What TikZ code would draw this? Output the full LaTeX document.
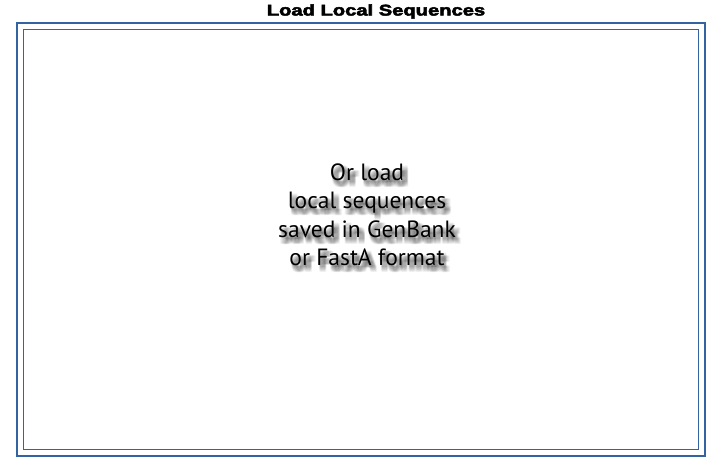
\documentclass[tikz,border=0pt]{standalone}
\usepackage{fontspec}
\setmainfont{Liberation Sans}
\newfontfamily\titlefont[BoldFeatures={FakeBold=3}]{Liberation Sans}
\newfontfamily\notefont{PT Sans}
\definecolor{framecol}{HTML}{3164A0}
\newcommand{\loadnote}{Or load\\local sequences\\saved in GenBank\\or FastA format}

\begin{document}
\begin{tikzpicture}[x=1pt,y=-1pt,
  titletext/.style={font=\titlefont\bfseries\fontsize{15.5}{15.5}\selectfont, anchor=base, inner sep=0pt, xscale=1.3},
  notetext/.style={font=\notefont\fontsize{23.5}{28.5}\selectfont, align=center, inner sep=0pt},
  noteshadow/.style={notetext, text=black, text opacity=0.03}]
\useasboundingbox (0,0) rectangle (722,472);
\fill[white] (0,0) rectangle (722,472);
% Drawing frames
\draw[color=framecol, line width=2.2pt] (17,23) rectangle (705,456);
\draw[color=framecol, line width=1pt] (23.5,29.5) rectangle (698,449);
% Title
\node[titletext] (title) at (376,15.5) {Load Local Sequences};
% Blurred shadow under the note
\foreach \dx in {1,...,6} {
  \foreach \dy in {2,...,7} {
    \node[noteshadow] (shadow\dx\dy) at (367+\dx,215+\dy) {\loadnote};
  }
}
% Note
\node[notetext] (note) at (367,215) {\loadnote};
\end{tikzpicture}
\end{document}
